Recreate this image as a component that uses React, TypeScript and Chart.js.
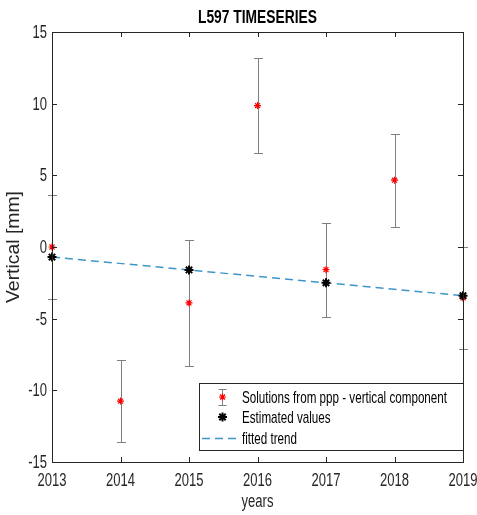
import React, { useEffect, useRef } from "react";
import { Chart, registerables } from "chart.js";

Chart.register(...registerables);

const years = [2013, 2014, 2015, 2016, 2017, 2018, 2019];
const pppValues = [0.0, -10.75, -3.9, 9.87, -1.58, 4.66, -3.55];
const pppErrors = [3.6, 2.85, 4.4, 3.3, 3.28, 3.23, 3.55];
const estYears = [2013, 2015, 2017, 2019];
const estValues = [-0.7, -1.6, -2.5, -3.4];
const trendYears = [2013, 2019];
const trendValues = [-0.7, -3.4];
const xTicks = [2013, 2014, 2015, 2016, 2017, 2018, 2019];
const yTicks = [-15, -10, -5, 0, 5, 10, 15];
const legendLabels = ["Solutions from ppp - vertical component", "Estimated values", "fitted trend"];

const FONT = '"Liberation Sans", Arial, sans-serif';
const AXIS_COLOR = "#262626";
const ERR_COLOR = "#808080";
const TREND_COLOR = "#4095c8";

function narrowText(ctx: any, text: string, x: number, y: number, align: string, sx: number) {
  ctx.save();
  ctx.translate(x, y);
  ctx.scale(sx, 1);
  ctx.textAlign = align;
  ctx.textBaseline = "middle";
  ctx.fillText(text, 0, 0);
  ctx.restore();
}

const decorPlugin = {
  id: "decor",
  beforeDatasetsDraw(chart: any) {
    const ctx = chart.ctx;
    const xs = chart.scales.x;
    const ys = chart.scales.y;
    ctx.save();
    ctx.strokeStyle = ERR_COLOR;
    ctx.lineWidth = 1;
    for (let i = 0; i < years.length; i++) {
      const x = Math.round(xs.getPixelForValue(years[i])) + 0.5;
      const yt = Math.round(ys.getPixelForValue(pppValues[i] + pppErrors[i])) + 0.5;
      const yb = Math.round(ys.getPixelForValue(pppValues[i] - pppErrors[i])) + 0.5;
      ctx.beginPath();
      ctx.moveTo(x, yt);
      ctx.lineTo(x, yb);
      ctx.moveTo(x - 4.5, yt);
      ctx.lineTo(x + 4.5, yt);
      ctx.moveTo(x - 4.5, yb);
      ctx.lineTo(x + 4.5, yb);
      ctx.stroke();
    }
    ctx.restore();
  },
  afterDraw(chart: any) {
    const ctx = chart.ctx;
    const a = chart.chartArea;
    const xs = chart.scales.x;
    const ys = chart.scales.y;
    ctx.save();
    // box
    ctx.strokeStyle = AXIS_COLOR;
    ctx.lineWidth = 1;
    ctx.strokeRect(Math.round(a.left) + 0.5, Math.round(a.top) + 0.5, Math.round(a.right - a.left), Math.round(a.bottom - a.top));
    // inward ticks
    ctx.beginPath();
    const tl = 5;
    for (const t of xTicks) {
      const x = Math.round(xs.getPixelForValue(t)) + 0.5;
      ctx.moveTo(x, a.bottom);
      ctx.lineTo(x, a.bottom - tl);
      ctx.moveTo(x, a.top);
      ctx.lineTo(x, a.top + tl);
    }
    for (const t of yTicks) {
      const y = Math.round(ys.getPixelForValue(t)) + 0.5;
      ctx.moveTo(a.left, y);
      ctx.lineTo(a.left + tl, y);
      ctx.moveTo(a.right, y);
      ctx.lineTo(a.right - tl, y);
    }
    ctx.stroke();

    // tick labels
    ctx.fillStyle = AXIS_COLOR;
    ctx.font = `18px ${FONT}`;
    const tsx = 29 / ctx.measureText("2016").width;
    for (const t of xTicks) {
      narrowText(ctx, String(t), xs.getPixelForValue(t), 481, "center", tsx);
    }
    for (const t of yTicks) {
      narrowText(ctx, String(t), 47, ys.getPixelForValue(t) + 1, "right", tsx);
    }

    // title
    ctx.fillStyle = "#000";
    ctx.font = `bold 18px ${FONT}`;
    const titleSx = 119 / ctx.measureText("L597 TIMESERIES").width;
    narrowText(ctx, "L597 TIMESERIES", (a.left + a.right) / 2, 18, "center", titleSx);

    // x title
    ctx.fillStyle = AXIS_COLOR;
    ctx.font = `18px ${FONT}`;
    narrowText(ctx, "years", (a.left + a.right) / 2, 502, "center", tsx);

    // y title
    ctx.save();
    ctx.translate(14, (a.top + a.bottom) / 2);
    ctx.rotate(-Math.PI / 2);
    ctx.font = `18px ${FONT}`;
    const ysx = 112 / ctx.measureText("Vertical [mm]").width;
    narrowText(ctx, "Vertical [mm]", 0, 0, "center", ysx);
    ctx.restore();

    // legend
    const lx = 199, ly = 383, lw = 264, lh = 67;
    ctx.fillStyle = "#fff";
    ctx.fillRect(lx, ly, lw, lh);
    ctx.strokeStyle = AXIS_COLOR;
    ctx.lineWidth = 1;
    ctx.strokeRect(lx + 0.5, ly + 0.5, lw, lh);
    const rows = [397, 417, 438];
    const ix = 222;
    ctx.strokeStyle = ERR_COLOR;
    ctx.beginPath();
    ctx.moveTo(ix + 0.5, rows[0] - 8);
    ctx.lineTo(ix + 0.5, rows[0] + 8);
    ctx.moveTo(ix - 3.5, rows[0] - 7.5);
    ctx.lineTo(ix + 4.5, rows[0] - 7.5);
    ctx.moveTo(ix - 3.5, rows[0] + 8.5);
    ctx.lineTo(ix + 4.5, rows[0] + 8.5);
    ctx.stroke();
    const star = (cx: number, cy: number, r: number, color: string, w: number) => {
      ctx.strokeStyle = color;
      ctx.lineWidth = w;
      ctx.beginPath();
      for (let k = 0; k < 4; k++) {
        const ang = (k * Math.PI) / 4;
        ctx.moveTo(cx + r * Math.cos(ang), cy + r * Math.sin(ang));
        ctx.lineTo(cx - r * Math.cos(ang), cy - r * Math.sin(ang));
      }
      ctx.stroke();
    };
    star(ix + 0.5, rows[0], 3.5, "#ff0000", 1.2);
    star(ix + 0.5, rows[1], 4.5, "#000", 2);
    ctx.strokeStyle = TREND_COLOR;
    ctx.lineWidth = 1.5;
    ctx.setLineDash([8, 5]);
    ctx.beginPath();
    ctx.moveTo(202, rows[2] + 0.5);
    ctx.lineTo(240, rows[2] + 0.5);
    ctx.stroke();
    ctx.setLineDash([]);
    ctx.fillStyle = "#000";
    ctx.font = `17px ${FONT}`;
    const lsx = 205 / ctx.measureText(legendLabels[0]).width;
    legendLabels.forEach((t, i) => narrowText(ctx, t, 242, rows[i] + 1, "left", lsx));
    ctx.restore();
  },
};

export default function App() {
  const ref = useRef<HTMLCanvasElement | null>(null);
  useEffect(() => {
    if (!ref.current) return;
    const chart = new Chart(ref.current, {
      type: "scatter",
      data: {
        datasets: [
          {
            type: "line",
            label: "fitted trend",
            data: trendYears.map((x, i) => ({ x, y: trendValues[i] })),
            borderColor: TREND_COLOR,
            borderWidth: 1.5,
            borderDash: [8, 5],
            pointRadius: 0,
            fill: false,
            order: 3,
          } as any,
          {
            label: legendLabels[0],
            data: years.map((x, i) => ({ x, y: pppValues[i] })),
            pointStyle: "star",
            pointRadius: 3.5,
            borderColor: "#ff0000",
            backgroundColor: "#ff0000",
            borderWidth: 1.2,
            clip: false,
            order: 2,
          } as any,
          {
            label: legendLabels[1],
            data: estYears.map((x, i) => ({ x, y: estValues[i] })),
            pointStyle: "star",
            pointRadius: 4.5,
            borderColor: "#000",
            backgroundColor: "#000",
            borderWidth: 2,
            clip: false,
            order: 1,
          } as any,
        ],
      },
      options: {
        responsive: false,
        animation: false,
        layout: { padding: { top: 32, right: 14, left: 0, bottom: 0 } },
        plugins: { legend: { display: false }, tooltip: { enabled: false }, title: { display: false } },
        scales: {
          x: {
            type: "linear",
            min: 2013,
            max: 2019,
            afterFit: (s: any) => {
              s.height = 53;
            },
            afterBuildTicks: (s: any) => {
              s.ticks = xTicks.map((v) => ({ value: v }));
            },
            ticks: { display: false },
            grid: { display: false, drawTicks: false },
            border: { display: false },
          },
          y: {
            type: "linear",
            min: -15,
            max: 15,
            afterFit: (s: any) => {
              s.width = 52;
            },
            afterBuildTicks: (s: any) => {
              s.ticks = yTicks.map((v) => ({ value: v }));
            },
            ticks: { display: false },
            grid: { display: false, drawTicks: false },
            border: { display: false },
          },
        },
      },
      plugins: [decorPlugin],
    } as any);
    return () => chart.destroy();
  }, []);
  return (
    <div style={{ position: "fixed", left: 0, top: 0, width: 477, height: 515, background: "#fff" }}>
      <canvas ref={ref} width={477} height={515} />
    </div>
  );
}
